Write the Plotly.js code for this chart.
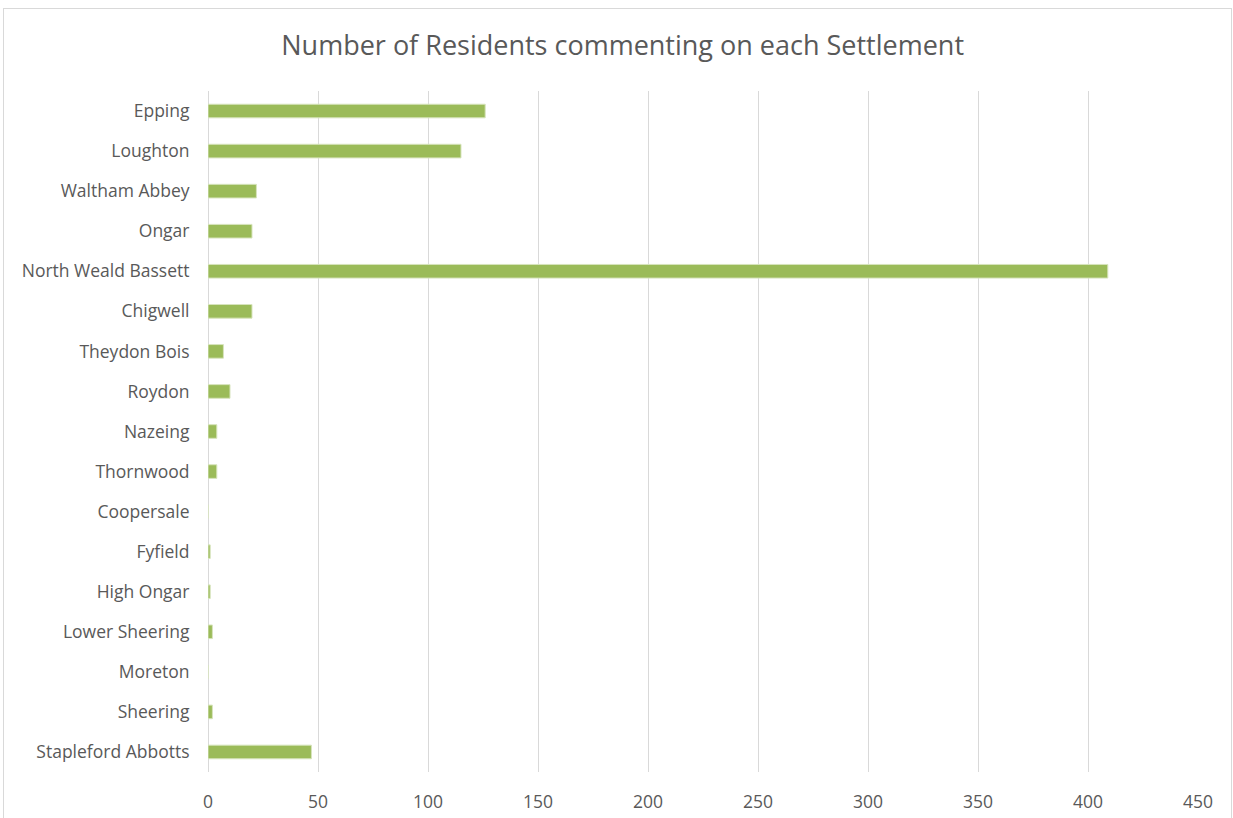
<!DOCTYPE html>
<html>
<head>
<meta charset="utf-8">
<script src="https://cdn.plot.ly/plotly-3.0.1.min.js"></script>
<style>
html,body{margin:0;padding:0;background:#fff;}
#frame{position:absolute;left:3px;top:8px;width:1229px;height:812px;border-left:1px solid #d9d9d9;border-top:1px solid #d9d9d9;border-right:1px solid #d9d9d9;box-sizing:border-box;pointer-events:none;}
#chart{position:absolute;left:0;top:0;width:1233px;height:818px;}
</style>
</head>
<body>
<div id="chart"></div>
<div id="frame"></div>
<script>
const settlements = ["Epping","Loughton","Waltham Abbey","Ongar","North Weald Bassett","Chigwell","Theydon Bois","Roydon","Nazeing","Thornwood","Coopersale","Fyfield","High Ongar","Lower Sheering","Moreton","Sheering","Stapleford Abbotts"];
const residents = [126,115,22,20,409,20,7,10,4,4,0,1,1,2,0,2,47];
const xTicks = [0,50,100,150,200,250,300,350,400,450];

const font = "'Open Sans', 'Liberation Sans', sans-serif";

Plotly.newPlot('chart', [{
  type: 'bar',
  orientation: 'h',
  y: settlements,
  x: residents,
  marker: {color: '#9BBB59', line: {color: '#d7e4bd', width: 1}},
  hoverinfo: 'x+y'
}], {
  width: 1233, height: 818,
  paper_bgcolor: '#fff', plot_bgcolor: '#fff',
  margin: {l: 208, r: 35, t: 91, b: 46},
  showlegend: false,
  bargap: 0.66,
  title: {text: 'Number of Residents commenting on each Settlement', font: {family: font, size: 27, color: '#595959'}, x: 0.505, xref: 'container', y: 0.944, yref: 'container', yanchor: 'middle'},
  xaxis: {range: [0, 450], tickvals: xTicks, ticktext: xTicks.map(String), showgrid: true, gridcolor: '#d9d9d9', gridwidth: 1, zeroline: true, zerolinecolor: '#d9d9d9', showline: false, ticks: 'outside', ticklen: 14, tickcolor: 'rgba(0,0,0,0)', tickfont: {family: font, size: 17.5, color: '#595959'}, fixedrange: true},
  yaxis: {type: 'category', autorange: 'reversed', showgrid: false, zeroline: false, showline: false, ticks: 'outside', ticklen: 14, tickcolor: 'rgba(0,0,0,0)', tickfont: {family: font, size: 17.5, color: '#595959'}, fixedrange: true}
}, {displayModeBar: false, staticPlot: true});
</script>
</body>
</html>
